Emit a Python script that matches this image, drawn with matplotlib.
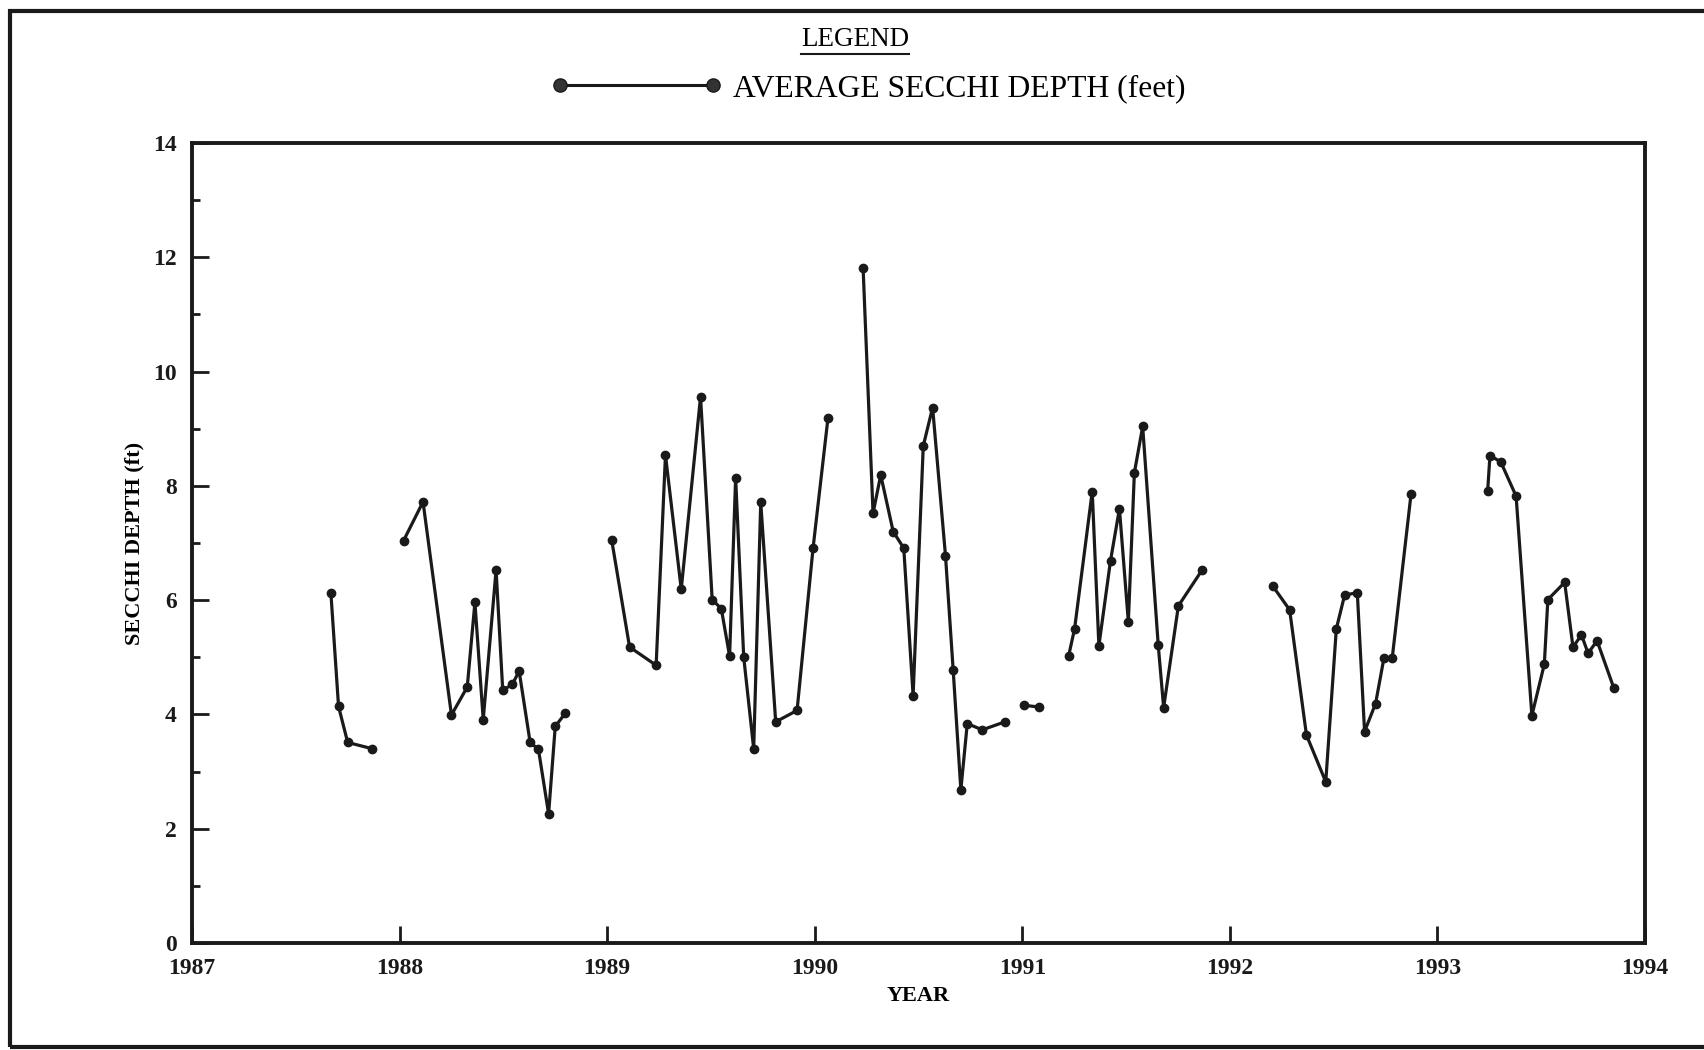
import matplotlib
matplotlib.use("Agg")
import matplotlib.pyplot as plt
from matplotlib.lines import Line2D
from matplotlib.patches import Rectangle
from matplotlib.ticker import MultipleLocator
import numpy as np

# ---- data (decimal year, average Secchi depth in feet), one run per sampling season ----
dates_1987 = [1987.669, 1987.706, 1987.750, 1987.868]
depth_1987 = [6.13, 4.14, 3.51, 3.40]

dates_1988 = [1988.019, 1988.113, 1988.250, 1988.326, 1988.363, 1988.403, 1988.465, 1988.497,
              1988.544, 1988.576, 1988.629, 1988.669, 1988.718, 1988.750, 1988.798]
depth_1988 = [7.04, 7.72, 3.99, 4.48, 5.96, 3.91, 6.53, 4.42,
              4.53, 4.76, 3.51, 3.39, 2.26, 3.79, 4.02]

dates_1989 = [1989.022, 1989.108, 1989.236, 1989.281, 1989.357, 1989.450, 1989.506, 1989.550,
              1989.590, 1989.619, 1989.658, 1989.706, 1989.740, 1989.812, 1989.915, 1989.992, 1990.064]
depth_1989 = [7.05, 5.18, 4.86, 8.54, 6.19, 9.56, 6.01, 5.85,
              5.02, 8.14, 5.00, 3.40, 7.71, 3.87, 4.07, 6.91, 9.19]

dates_1990 = [1990.233, 1990.281, 1990.318, 1990.378, 1990.429, 1990.474, 1990.523, 1990.568,
              1990.630, 1990.667, 1990.704, 1990.735, 1990.807, 1990.916]
depth_1990 = [11.82, 7.52, 8.19, 7.20, 6.91, 4.33, 8.70, 9.37,
              6.78, 4.78, 2.68, 3.84, 3.73, 3.87]

dates_1991a = [1991.008, 1991.080]
depth_1991a = [4.16, 4.13]

dates_1991 = [1991.223, 1991.252, 1991.337, 1991.369, 1991.425, 1991.468, 1991.511, 1991.540,
              1991.580, 1991.655, 1991.681, 1991.752, 1991.865]
depth_1991 = [5.02, 5.50, 7.90, 5.20, 6.69, 7.60, 5.62, 8.23,
              9.04, 5.21, 4.12, 5.90, 6.52]

dates_1992 = [1992.208, 1992.288, 1992.369, 1992.462, 1992.513, 1992.553, 1992.614, 1992.649,
              1992.702, 1992.742, 1992.782, 1992.873]
depth_1992 = [6.24, 5.83, 3.64, 2.82, 5.50, 6.09, 6.13, 3.70,
              4.19, 4.98, 4.98, 7.86]

dates_1993 = [1993.242, 1993.253, 1993.305, 1993.379, 1993.455, 1993.515, 1993.532, 1993.613,
              1993.653, 1993.694, 1993.726, 1993.769, 1993.850]
depth_1993 = [7.91, 8.53, 8.42, 7.82, 3.98, 4.88, 6.01, 6.31,
              5.18, 5.39, 5.07, 5.29, 4.46]

segments = [(dates_1987, depth_1987), (dates_1988, depth_1988), (dates_1989, depth_1989),
            (dates_1990, depth_1990), (dates_1991a, depth_1991a), (dates_1991, depth_1991),
            (dates_1992, depth_1992), (dates_1993, depth_1993)]

year_ticks = [1987, 1988, 1989, 1990, 1991, 1992, 1993, 1994]
depth_ticks = [0, 2, 4, 6, 8, 10, 12, 14]

# ---- figure ----
plt.rcParams['font.family'] = ['Liberation Serif', 'DejaVu Serif']
W, H = 1704, 1050
fig = plt.figure(figsize=(W / 100, H / 100), dpi=100)
fig.patch.set_facecolor('white')

# outer border
fig.patches.append(Rectangle((10 / W, 3 / H), 1.2, 1 - 14 / H, transform=fig.transFigure,
                             fill=False, edgecolor='#1a1a1a', linewidth=3.0, zorder=0))

ax = fig.add_axes([192 / W, 1 - 943 / H, (1645 - 192) / W, (943 - 143) / H])
for x, y in segments:
    ax.plot(x, y, color='#1a1a1a', linewidth=2.3, marker='o', markersize=6,
            markerfacecolor='#1a1a1a', markeredgecolor='#1a1a1a', solid_capstyle='round')

ax.set_xlim(1987, 1994)
ax.set_ylim(0, 14)
ax.set_xticks(year_ticks)
ax.set_xticklabels([str(v) for v in year_ticks])
ax.set_yticks(depth_ticks)
ax.set_yticklabels([str(v) for v in depth_ticks])
ax.yaxis.set_minor_locator(MultipleLocator(1))

for s in ax.spines.values():
    s.set_linewidth(2.8)
    s.set_color('#1a1a1a')

ax.tick_params(axis='both', which='major', direction='in', length=12, width=2.0,
               colors='#1a1a1a', labelsize=17)
ax.tick_params(axis='y', which='minor', direction='in', length=6, width=2.0, colors='#1a1a1a')
ax.tick_params(axis='x', which='major', pad=11)
ax.tick_params(axis='y', which='major', pad=11)
for lab in ax.get_xticklabels() + ax.get_yticklabels():
    lab.set_fontweight('bold')

ax.set_xlabel('YEAR', fontsize=16, fontweight='bold', labelpad=5)
ax.set_ylabel('SECCHI DEPTH (ft)', fontsize=16, fontweight='bold', labelpad=6)

# ---- legend drawn at top ----
legend_title = fig.text(855 / W, 1 - 39 / H, 'LEGEND', ha='center', va='center', fontsize=19.5)
fig.add_artist(Line2D([560 / W, 713 / W], [1 - 85 / H, 1 - 85 / H], transform=fig.transFigure,
                      color='#1a1a1a', linewidth=2.2, marker='o', markersize=9.5,
                      markerfacecolor='#333333', markeredgecolor='#1a1a1a'))
fig.text(733 / W, 1 - 89 / H, 'AVERAGE SECCHI DEPTH (feet)', ha='left', va='center', fontsize=22.8)

fig.canvas.draw()
bb = legend_title.get_window_extent(renderer=fig.canvas.get_renderer())
uy = (bb.y0 - 2) / H
fig.add_artist(Line2D([bb.x0 / W, bb.x1 / W], [uy, uy], transform=fig.transFigure,
                      color='#1a1a1a', linewidth=1.5))

fig.savefig('out.png', dpi=100, facecolor='white')
